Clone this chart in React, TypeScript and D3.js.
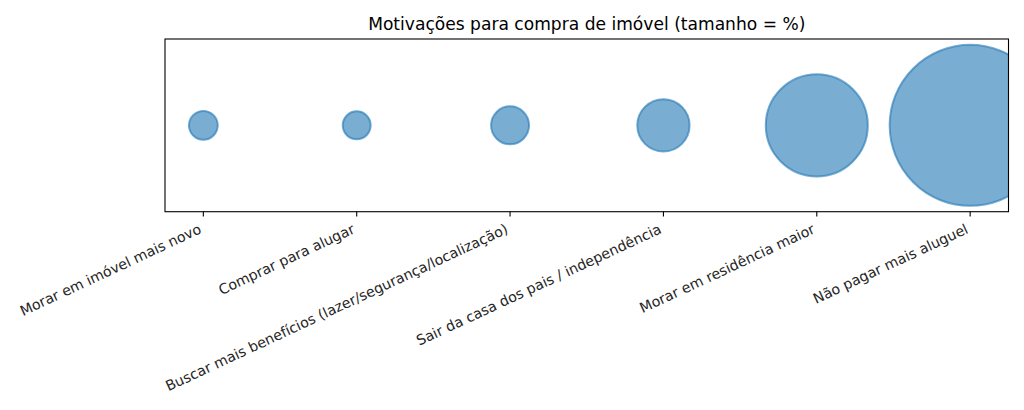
import { useEffect, useRef } from "react";
import * as d3 from "d3";

const CATEGORIES = [
  "Morar em imóvel mais novo",
  "Comprar para alugar",
  "Buscar mais benefícios (lazer/segurança/localização)",
  "Sair da casa dos pais / independência",
  "Morar em residência maior",
  "Não pagar mais aluguel",
];
const PERCENTS = [1.7, 1.6, 2.95, 5.6, 21.3, 53];

const WIDTH = 1024;
const HEIGHT = 410;
const MARGIN = { top: 39, right: 15.5, bottom: 198.3, left: 165 };

const COLOR_BUBBLE = "#1f77b4";
const COLOR_TEXT = "#262626";
const FONT = "'DejaVu Sans', sans-serif";
const LABEL_ANGLE = -25;

export default function App() {
  const svgRef = useRef<SVGSVGElement>(null);

  useEffect(() => {
    const svg = d3.select(svgRef.current);
    svg.selectAll("*").remove();

    const plotW = WIDTH - MARGIN.left - MARGIN.right;
    const plotH = HEIGHT - MARGIN.top - MARGIN.bottom;

    svg.append("rect").attr("width", WIDTH).attr("height", HEIGHT).attr("fill", "#fff");

    const g = svg
      .append("g")
      .attr("transform", `translate(${MARGIN.left},${MARGIN.top})`);

    const x = d3
      .scaleLinear()
      .domain([-0.25, CATEGORIES.length - 1 + 0.25])
      .range([0, plotW]);

    // bubble area ~ percent
    const r = d3.scaleSqrt().domain([0, 53]).range([0, 80.5]);

    g.append("clipPath")
      .attr("id", "plot-clip")
      .append("rect")
      .attr("width", plotW)
      .attr("height", plotH);

    const bubbles = g.append("g").attr("clip-path", "url(#plot-clip)");
    PERCENTS.forEach((v, i) => {
      bubbles
        .append("circle")
        .attr("cx", x(i))
        .attr("cy", plotH / 2)
        .attr("r", r(v))
        .attr("fill", COLOR_BUBBLE)
        .attr("fill-opacity", 0.6)
        .attr("stroke", COLOR_BUBBLE)
        .attr("stroke-opacity", 0.6)
        .attr("stroke-width", 2);
    });

    // frame
    g.append("rect")
      .attr("width", plotW)
      .attr("height", plotH)
      .attr("fill", "none")
      .attr("stroke", "#000")
      .attr("stroke-width", 1.1);

    // x ticks + rotated labels
    CATEGORIES.forEach((label, i) => {
      const tx = x(i);
      g.append("line")
        .attr("x1", tx)
        .attr("x2", tx)
        .attr("y1", plotH)
        .attr("y2", plotH + 4.9)
        .attr("stroke", "#000")
        .attr("stroke-width", 1.1);

      g.append("text")
        .attr("transform", `translate(${tx - 1},${plotH + 20.8}) rotate(${LABEL_ANGLE})`)
        .attr("text-anchor", "end")
        .attr("font-family", FONT)
        .attr("font-size", "14.2px")
        .attr("fill", COLOR_TEXT)
        .text(label);
    });

    // title
    svg
      .append("text")
      .attr("x", MARGIN.left + plotW / 2)
      .attr("y", MARGIN.top - 9.5)
      .attr("text-anchor", "middle")
      .attr("font-family", FONT)
      .attr("font-size", "17.1px")
      .attr("fill", "#000")
      .text("Motivações para compra de imóvel (tamanho = %)");
  }, []);

  return (
    <svg
      ref={svgRef}
      width={WIDTH}
      height={HEIGHT}
      style={{ position: "absolute", left: 0, top: 0 }}
    />
  );
}
